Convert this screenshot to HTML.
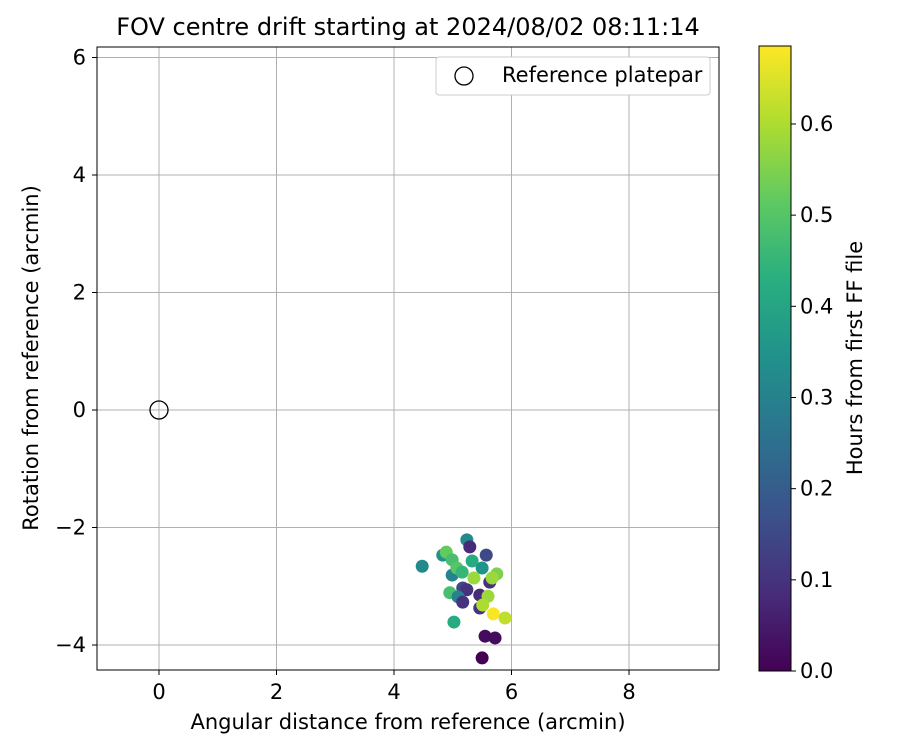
<!DOCTYPE html>
<html><head><meta charset="utf-8"><style>
body{margin:0;background:#fff}
svg text{font-family:"DejaVu Sans","Liberation Sans",sans-serif}
</style></head><body>
<svg id="c" width="900" height="750" xmlns="http://www.w3.org/2000/svg">
<defs><linearGradient id="vir" x1="0" y1="1" x2="0" y2="0">
<stop offset="0" stop-color="#440154"/><stop offset="0.125" stop-color="#472d7b"/><stop offset="0.25" stop-color="#3b528b"/><stop offset="0.375" stop-color="#2c728e"/><stop offset="0.5" stop-color="#21918c"/><stop offset="0.625" stop-color="#28ae80"/><stop offset="0.75" stop-color="#5ec962"/><stop offset="0.875" stop-color="#addc30"/><stop offset="1" stop-color="#fde725"/></linearGradient></defs>
<text x="408" y="35" text-anchor="middle" font-size="24">FOV centre drift starting at 2024/08/02 08:11:14</text>
<g id="grid"></g><g id="pts"></g>
<rect x="97" y="47" width="622" height="623" fill="none" stroke="#000"/>
<g id="ticks" font-size="21"></g>
<text x="408" y="729" text-anchor="middle" font-size="21">Angular distance from reference (arcmin)</text>
<text transform="translate(38,358) rotate(-90)" text-anchor="middle" font-size="21">Rotation from reference (arcmin)</text>
<g>
<rect x="436" y="57" width="274" height="38" rx="3" fill="#fff" stroke="#ccc"/>
<circle cx="464" cy="76" r="9" fill="none" stroke="#000" stroke-width="1.3"/>
<text x="502" y="82" font-size="21">Reference platepar</text>
</g>
<rect x="759" y="46" width="32" height="625" fill="url(#vir)" stroke="#000"/>
<g id="cbticks" font-size="21"></g>
<text transform="translate(862,358) rotate(-90)" text-anchor="middle" font-size="21">Hours from first FF file</text>
</svg>
<script>
const xs=[5.24,5.29,4.48,4.83,4.89,5.57,5.33,4.99,5.50,4.99,5.07,5.16,5.36,5.63,5.75,5.67,5.17,5.24,4.95,5.09,5.17,5.46,5.60,5.46,5.51,5.69,5.89,5.02,5.55,5.72,5.50];
const ys=[-2.21,-2.33,-2.66,-2.47,-2.42,-2.47,-2.57,-2.55,-2.69,-2.81,-2.69,-2.76,-2.86,-2.93,-2.79,-2.86,-3.03,-3.06,-3.11,-3.18,-3.27,-3.15,-3.17,-3.37,-3.32,-3.47,-3.54,-3.61,-3.85,-3.88,-4.22];
const hrs=[0.32,0.08,0.32,0.35,0.52,0.15,0.42,0.48,0.35,0.30,0.50,0.45,0.58,0.10,0.55,0.58,0.15,0.10,0.48,0.30,0.10,0.08,0.58,0.10,0.60,0.68,0.62,0.42,0.02,0.02,0.0];
const xTicks=[0,2,4,6,8], yTicks=[-4,-2,0,2,4,6], cTicks=[0,0.1,0.2,0.3,0.4,0.5,0.6];
const X=v=>159+v*58.75, Y=v=>410-v*58.75, C=v=>671-v*911.7;
const NS="http://www.w3.org/2000/svg";
function mk(t,a,p){const e=document.createElementNS(NS,t);for(const k in a)e.setAttribute(k,a[k]);document.getElementById(p).appendChild(e);return e;}
const V=[[68,1,84],[71,45,123],[59,82,139],[44,114,142],[33,145,140],[40,174,128],[94,201,98],[173,220,48],[253,231,37]];
function vir(v){let t=Math.max(0,Math.min(1,v/0.6855))*8,i=Math.min(7,Math.floor(t)),f=t-i;return 'rgb('+V[i].map((c,j)=>Math.round(c+(V[i+1][j]-c)*f)).join(',')+')';}
xTicks.forEach(v=>{
 const g=mk('line',{x1:X(v),x2:X(v),y1:47,y2:670,stroke:'#b0b0b0','stroke-width':1},'grid');
 
 
 mk('line',{x1:X(v),x2:X(v),y1:670,y2:675,stroke:'#000'},'ticks');
 const t=mk('text',{x:X(v),y:699,'text-anchor':'middle'},'ticks');t.textContent=v;
 
 
});
yTicks.forEach(v=>{
 const g=mk('line',{x1:97,x2:719,y1:Y(v),y2:Y(v),stroke:'#b0b0b0','stroke-width':1},'grid');
 
 
 mk('line',{x1:92,x2:97,y1:Y(v),y2:Y(v),stroke:'#000'},'ticks');
 const t=mk('text',{x:86,y:Y(v)+7,'text-anchor':'end'},'ticks');t.textContent=v<0?'\u2212'+(-v):v;
 
 
});
cTicks.forEach(v=>{
 mk('line',{x1:791,x2:796,y1:C(v),y2:C(v),stroke:'#000'},'cbticks');
 const t=mk('text',{x:800,y:C(v)+7},'cbticks');t.textContent=v.toFixed(1);
 
 
});
const r=mk('circle',{cx:X(0),cy:Y(0),r:9,fill:'none',stroke:'#000','stroke-width':1.3},'pts');


xs.forEach((x,i)=>{
 const p=mk('circle',{cx:X(x),cy:Y(ys[i]),r:6.5,fill:vir(hrs[i])},'pts');
 
 
});
</script>
</body></html>
